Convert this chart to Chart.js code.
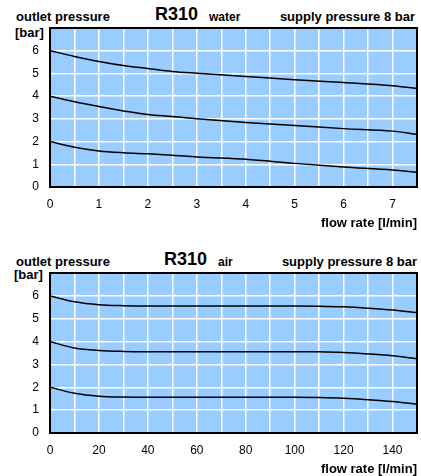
<!DOCTYPE html>
<html>
<head>
<meta charset="utf-8">
<script src="https://cdn.jsdelivr.net/npm/chart.js@4.4.1/dist/chart.umd.min.js"></script>
<style>
  body { margin: 0; background: #fff; width: 421px; height: 476px; overflow: hidden;
         font-family: "Liberation Sans", Arial, Helvetica, sans-serif; }
  .t { position: absolute; white-space: nowrap; font-weight: bold; color: #000; line-height: 1; }
  canvas { position: absolute; left: 0; }
</style>
</head>
<body>
<div class="t" style="left:16px; top:10px; font-size:13px;">outlet pressure</div>
<div class="t" style="left:155px; top:5px; font-size:18px;">R310</div>
<div class="t" style="left:209px; top:11px; font-size:12px;">water</div>
<div class="t" style="right:6px; top:10px; font-size:13px;">supply pressure 8 bar</div>
<div class="t" style="left:15px; top:26px; font-size:13px;">[bar]</div>
<canvas id="waterChart" width="421" height="230" style="top:0"></canvas>

<div class="t" style="left:16px; top:255px; font-size:13px;">outlet pressure</div>
<div class="t" style="left:164px; top:250px; font-size:18px;">R310</div>
<div class="t" style="left:218px; top:256px; font-size:12px;">air</div>
<div class="t" style="right:4px; top:255px; font-size:13px;">supply pressure 8 bar</div>
<div class="t" style="left:14px; top:268px; font-size:13px;">[bar]</div>
<canvas id="airChart" width="421" height="236" style="top:240px"></canvas>

<script>
// water, supply pressure 8 bar (flow rate l/min -> outlet pressure bar)
const waterX = [0, 0.5, 1, 1.5, 2, 2.5, 3, 4, 5, 6, 7, 7.5];
const water6 = [6.0, 5.75, 5.53, 5.35, 5.22, 5.09, 5.01, 4.87, 4.72, 4.6, 4.46, 4.34];
const water4 = [4.0, 3.75, 3.54, 3.35, 3.19, 3.10, 3.0, 2.84, 2.71, 2.57, 2.46, 2.32];
const water2 = [2.0, 1.75, 1.59, 1.51, 1.46, 1.40, 1.32, 1.22, 1.04, 0.88, 0.75, 0.65];

// air, supply pressure 8 bar
const airX = [0, 10, 20, 30, 40, 60, 80, 100, 110, 120, 130, 140, 150];
const air6 = [6.0, 5.74, 5.61, 5.57, 5.56, 5.56, 5.56, 5.56, 5.55, 5.52, 5.46, 5.38, 5.26];
const air4 = [4.0, 3.72, 3.61, 3.57, 3.56, 3.56, 3.56, 3.56, 3.55, 3.52, 3.46, 3.38, 3.25];
const air2 = [2.0, 1.74, 1.61, 1.57, 1.56, 1.56, 1.56, 1.56, 1.55, 1.52, 1.46, 1.38, 1.26];

const yTicks = [0, 1, 2, 3, 4, 5, 6];

const font = '"Liberation Sans", Arial, Helvetica, sans-serif';

// light blue plot background + black frame
const frame = {
  id: 'frame',
  beforeDraw(chart) {
    const a = chart.chartArea, ctx = chart.ctx;
    ctx.save();
    ctx.fillStyle = '#99ccff';
    ctx.fillRect(a.left, a.top, a.right - a.left, a.bottom - a.top);
    ctx.restore();
  },
  afterDraw(chart) {
    const a = chart.chartArea, ctx = chart.ctx;
    ctx.save();
    ctx.strokeStyle = '#000';
    ctx.lineWidth = 2;
    ctx.strokeRect(a.left, a.top, a.right - a.left, a.bottom - a.top);
    ctx.restore();
  }
};

function makeChart(id, xs, series, xMax, xStep, labelEvery, plotTop, plotBottom, canvasH) {
  const datasets = series.map(s => ({
    data: xs.map((x, i) => ({ x: x, y: s[i] })),
    borderColor: '#000',
    borderWidth: 1.5,
    pointRadius: 0,
    fill: false,
    cubicInterpolationMode: 'monotone'
  }));
  return new Chart(document.getElementById(id), {
    type: 'line',
    data: { datasets: datasets },
    plugins: [frame],
    options: {
      responsive: false,
      animation: false,
      devicePixelRatio: 1,
      layout: { padding: { top: plotTop, right: 4, left: 0, bottom: 0 } },
      plugins: { legend: { display: false }, tooltip: { enabled: false } },
      scales: {
        x: {
          type: 'linear',
          min: 0,
          max: xMax,
          afterFit: s => {
            s.height = canvasH - plotBottom;
            s.paddingLeft = 0;
            s.paddingRight = 0;
          },
          grid: { color: '#fff', lineWidth: 1.5, drawTicks: false },
          border: { display: false },
          ticks: {
            stepSize: xStep,
            autoSkip: false,
            maxRotation: 0,
            padding: 10,
            color: '#000',
            font: { family: font, size: 12 },
            callback: v => (Math.abs(v % labelEvery) < 1e-9 && v < xMax) ? v : ''
          },
          title: {
            display: true,
            text: 'flow rate [l/min]',
            align: 'end',
            color: '#000',
            padding: 0,
            font: { family: font, size: 13, weight: 'bold', lineHeight: 1 }
          }
        },
        y: {
          min: 0,
          max: 7,
          afterFit: s => { s.width = 50; },
          grid: { color: '#fff', lineWidth: 1.5, drawTicks: false },
          border: { display: false },
          ticks: {
            stepSize: 1,
            padding: 11,
            color: '#000',
            font: { family: font, size: 12 },
            callback: v => yTicks.includes(v) ? v : ''
          }
        }
      }
    }
  });
}

makeChart('waterChart', waterX, [water6, water4, water2], 7.5, 0.5, 1, 28, 187, 230);
makeChart('airChart', airX, [air6, air4, air2], 150, 10, 20, 33, 193, 236);
</script>
</body>
</html>
